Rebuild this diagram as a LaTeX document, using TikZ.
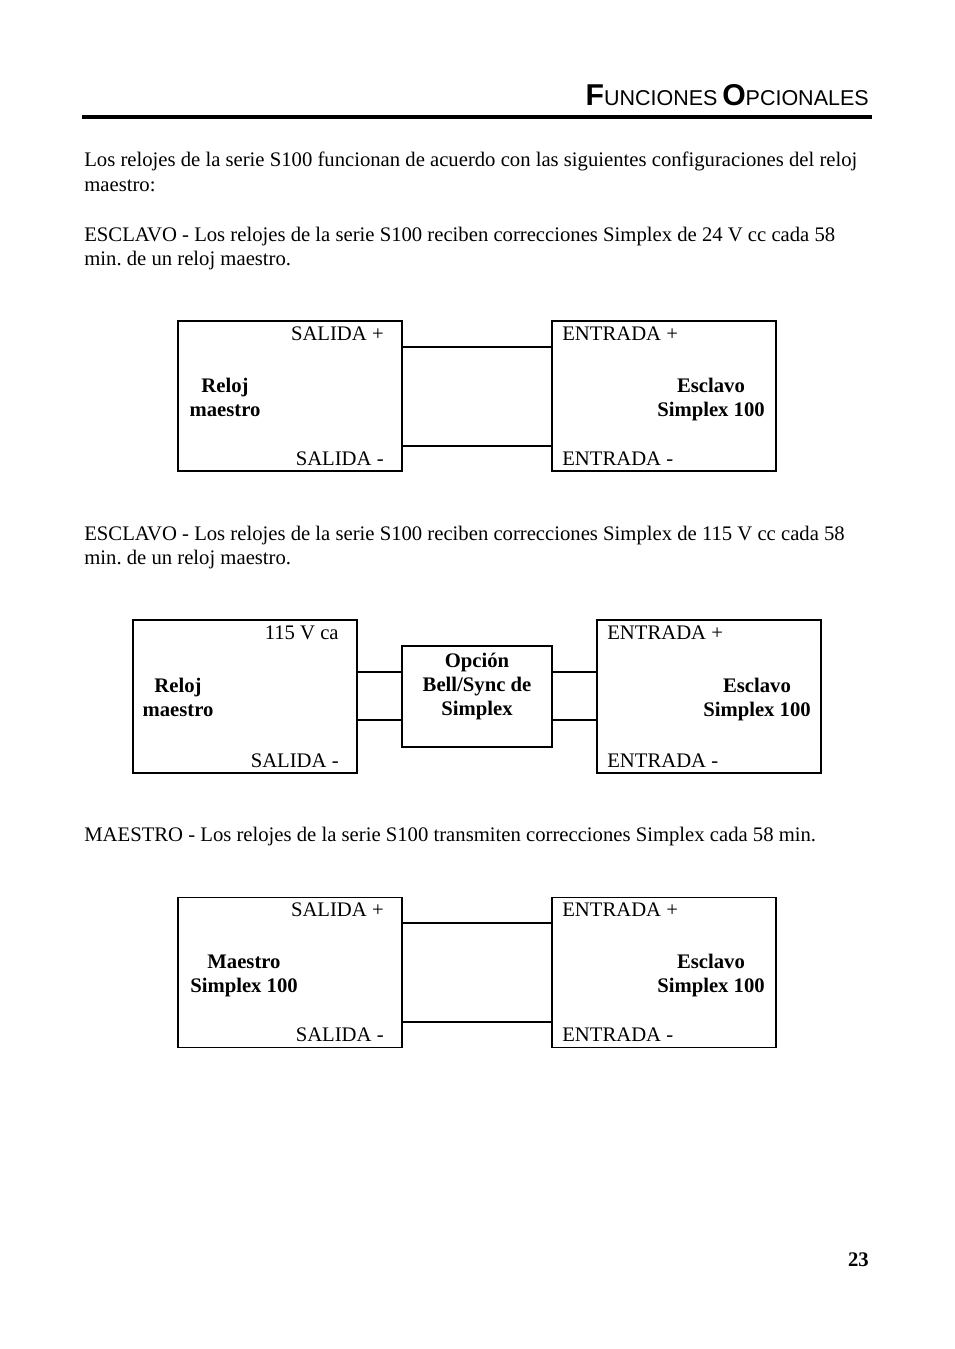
\documentclass[tikz,border=0pt]{standalone}
\usepackage{fontspec}
\setmainfont{Liberation Serif}
\newfontfamily\headfont{Liberation Sans}
\usepackage{tikz}
\usetikzlibrary{positioning}
\frenchspacing

\begin{document}
\begin{tikzpicture}[
  x=0.6237pt, y=-0.6237pt,
  font=\fontsize{12.9}{15}\selectfont,
  txt/.style={inner sep=0pt, anchor=base west},
  portl/.style={inner sep=0pt, anchor=base east},
  portr/.style={inner sep=0pt, anchor=base west},
  unit/.style={draw, line width=0.75pt, inner sep=0pt,
               minimum width=139.7pt, minimum height=93.6pt},
  optbox/.style={unit, minimum width=93.6pt, minimum height=63pt},
  title/.style={inner sep=0pt, align=center,
                font=\fontsize{12.9}{15}\selectfont\bfseries},
  wire/.style={line width=1pt},
]
\useasboundingbox[fill=white] (0,0) rectangle (954,1349);

%% ── Page head ────────────────────────────────────────────────────────────────
\node[inner sep=0pt, anchor=base east, font=\headfont] (head) at (869,106)
  {{\fontsize{18.8}{22}\selectfont\bfseries F}{\fontsize{13.4}{16}\selectfont UNCIONES}\hspace{0.3em}%
   {\fontsize{18.8}{22}\selectfont\bfseries O}{\fontsize{13.4}{16}\selectfont PCIONALES}};
\coordinate (ruleL) at (82,117);
\coordinate (ruleR) at (872,117);
\draw[line width=1.9pt] (ruleL) -- (ruleR);

%% ── Body text ────────────────────────────────────────────────────────────────
\node[txt] (p1a) at (84,167) {Los relojes de la serie S100 funcionan de acuerdo con las siguientes configuraciones del reloj};
\node[txt] (p1b) at (84,191) {maestro:};
\node[txt] (p2a) at (84,241) {ESCLAVO - Los relojes de la serie S100 reciben correcciones Simplex de 24 V cc cada 58};
\node[txt] (p2b) at (84,265) {min. de un reloj maestro.};
\node[txt] (p3a) at (84,540) {ESCLAVO - Los relojes de la serie S100 reciben correcciones Simplex de 115 V cc cada 58};
\node[txt] (p3b) at (84,564) {min. de un reloj maestro.};
\node[txt] (p4a) at (84,841) {MAESTRO - Los relojes de la serie S100 transmiten correcciones Simplex cada 58 min.};

%% ── Diagram 1: master clock -> slave (24 V) ──────────────────────────────────
\node[unit] (mast1) at (290,396) {};
\node[unit] (slav1) at (664,396) {};
\node[portl] (out1p) at (384,340) {SALIDA +};
\node[portl] (out1m) at (384,465) {SALIDA -};
\node[portr] (in1p)  at (562,340) {ENTRADA +};
\node[portr] (in1m)  at (562,465) {ENTRADA -};
\node[title] (mast1t) at (225,397) {Reloj\\maestro};
\node[title] (slav1t) at (711,399.5) {Esclavo\\Simplex 100};
\draw[wire] (mast1.east |- 0,347) -- (slav1.west |- 0,347);
\draw[wire] (mast1.east |- 0,446) -- (slav1.west |- 0,446);

%% ── Diagram 2: master clock -> Bell/Sync option -> slave (115 V) ────────────
\node[unit, minimum height=95.4pt] (mast2) at (245,696.5) {};
\node[optbox] (opt2) at (477,696.5) {};
\node[unit, minimum height=95.4pt] (slav2) at (709,696.5) {};
\node[portl] (out2p) at (339,639) {115 V ca};
\node[portl] (out2m) at (339,767) {SALIDA -};
\node[portr] (in2p)  at (607,639) {ENTRADA +};
\node[portr] (in2m)  at (607,767) {ENTRADA -};
\node[title] (mast2t) at (178,697) {Reloj\\maestro};
\node[title] (opt2t)  at (477,686.5) {Opción\\Bell/Sync de\\Simplex};
\node[title] (slav2t) at (757,699.5) {Esclavo\\Simplex 100};
\draw[wire] (mast2.east |- 0,672) -- (opt2.west |- 0,672);
\draw[wire] (mast2.east |- 0,720) -- (opt2.west |- 0,720);
\draw[wire] (opt2.east |- 0,672) -- (slav2.west |- 0,672);
\draw[wire] (opt2.east |- 0,720) -- (slav2.west |- 0,720);

%% ── Diagram 3: S100 master -> S100 slave ────────────────────────────────────
\node[unit] (mast3) at (290,972.5) {};
\node[unit] (slav3) at (664,972.5) {};
\node[portl] (out3p) at (384,916) {SALIDA +};
\node[portl] (out3m) at (384,1041) {SALIDA -};
\node[portr] (in3p)  at (562,916) {ENTRADA +};
\node[portr] (in3m)  at (562,1041) {ENTRADA -};
\node[title] (mast3t) at (244,976) {Maestro\\Simplex 100};
\node[title] (slav3t) at (711,975.5) {Esclavo\\Simplex 100};
\draw[wire] (mast3.east |- 0,923) -- (slav3.west |- 0,923);
\draw[wire] (mast3.east |- 0,1022) -- (slav3.west |- 0,1022);

%% ── Page number ──────────────────────────────────────────────────────────────
\node[portl, font=\fontsize{12.9}{15}\selectfont\bfseries] (pgno) at (869,1266) {23};

\end{tikzpicture}
\end{document}
